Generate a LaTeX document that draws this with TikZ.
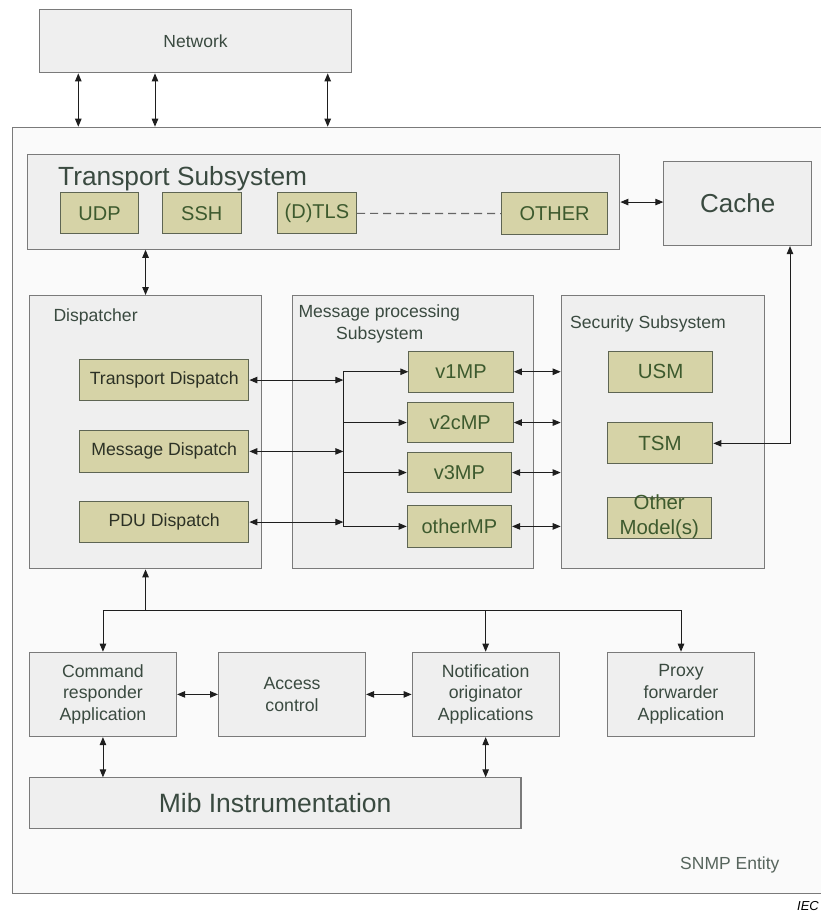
\documentclass[tikz,border=0pt]{standalone}
\usepackage{fontspec}
\setmainfont{Liberation Sans}
\usetikzlibrary{arrows.meta}

\definecolor{boxfill}{HTML}{EFEFEF}
\definecolor{boxline}{HTML}{7A7A7A}
\definecolor{entfill}{HTML}{FAFAFA}
\definecolor{modfill}{HTML}{D6D3A7}
\definecolor{modline}{HTML}{5E6553}
\definecolor{modtext}{HTML}{3D5A2E}
\definecolor{darktext}{HTML}{2C3125}
\definecolor{labtext}{HTML}{3A4A40}
\definecolor{wire}{HTML}{1E1E1E}

\newcommand{\fs}[2]{\fontsize{#1}{#2}\selectfont}

\tikzset{
  panel/.style={draw=boxline, fill=boxfill, line width=1.1pt, inner sep=0pt,
    anchor=north west, text=labtext},
  module/.style={draw=modline, fill=modfill, line width=1.1pt, inner sep=0pt,
    anchor=north west, text=modtext},
  appbox/.style={panel, minimum height=84.3, align=center, font={\fs{17.7}{21.7}}},
  caption/.style={inner sep=0pt, anchor=base west, text=labtext},
  link/.style={draw=wire, line width=0.9pt},
  tipped/.style={link, -{Triangle[length=8pt,width=6.5pt]}},
  both/.style={link, {Triangle[length=8pt,width=6.5pt]}-{Triangle[length=8pt,width=6.5pt]}},
  dotlink/.style={draw=black!60, line width=1.2pt, dash pattern=on 8pt off 5pt},
}

\begin{document}
\begin{tikzpicture}[x=1pt,y=-1pt]
\useasboundingbox[fill=white] (0,0) rectangle (820,911);

% network and SNMP entity frame
\node[panel, minimum width=311.4, minimum height=63] (net) at (39.3,9.3) {\fs{17.5}{21}Network};
\node[draw=boxline, fill=entfill, line width=1.1pt, inner sep=0pt, anchor=north west,
  minimum width=818, minimum height=765.8] (ent) at (12,126.7) {};

% transport subsystem
\node[panel, minimum width=592, minimum height=94.4] (tr) at (27.3,154.3) {};
\node[caption] (trlab) at (58,185) {\fs{26.3}{30}Transport Subsystem};
\node[module, minimum width=78, minimum height=41] (udp) at (60,192.3) {\fs{20}{24}UDP};
\node[module, minimum width=79, minimum height=41] (ssh) at (161.7,192.3) {\fs{20}{24}SSH};
\node[module, minimum width=79.3, minimum height=41] (dtls) at (276.7,192.3) {\fs{20}{24}(D)TLS};
\node[module, minimum width=106, minimum height=41.5] (oth) at (501,192.3) {\fs{20}{24}OTHER};
\node[panel, minimum width=147.7, minimum height=84] (cache) at (663.3,161) {\fs{26}{30}Cache};

% dispatcher
\node[panel, minimum width=231.4, minimum height=273.3] (disp) at (29.3,295) {};
\node[caption] (displab) at (53.3,321.7) {\fs{17.6}{21}Dispatcher};
\node[module, text=darktext, minimum width=169.3, minimum height=41] (td) at (79,359) {\fs{17.7}{21}Transport Dispatch};
\node[module, text=darktext, minimum width=169.3, minimum height=41.7] (md) at (79,430) {\fs{17.7}{21}Message Dispatch};
\node[module, text=darktext, minimum width=169.3, minimum height=41.6] (pdu) at (79,500.7) {\fs{17.7}{21}PDU Dispatch};

% message processing subsystem
\node[panel, minimum width=241.6, minimum height=273.3] (mp) at (291.7,295) {};
\node[caption] (mplab1) at (298.3,317.3) {\fs{17.6}{21}Message processing};
\node[caption] (mplab2) at (336,339) {\fs{17.6}{21}Subsystem};
\node[module, minimum width=104.4, minimum height=41] (v1) at (408.3,350.7) {\fs{20}{24}v1MP};
\node[module, minimum width=106, minimum height=40.6] (v2) at (406.7,401.7) {\fs{20}{24}v2cMP};
\node[module, minimum width=104.3, minimum height=40.6] (v3) at (406.7,451.7) {\fs{20}{24}v3MP};
\node[module, minimum width=104.3, minimum height=41.7] (omp) at (406.7,505) {\fs{20}{24}otherMP};

% security subsystem
\node[panel, minimum width=203.6, minimum height=272.7] (sec) at (560.7,295) {};
\node[caption] (seclab) at (570,328.3) {\fs{17.6}{21}Security Subsystem};
\node[module, minimum width=104.6, minimum height=41] (usm) at (607.7,350.7) {\fs{20.5}{24}USM};
\node[module, minimum width=105.6, minimum height=41] (tsm) at (606.7,422.3) {\fs{20.5}{24}TSM};
\node[module, minimum width=104, minimum height=41] (om) at (606.7,497.3) {};
\node[inner sep=0pt, align=center, text=modtext, font={\fs{20.4}{25}}] (omlab)
  at ([yshift=1.5]om.center) {Other\\Model(s)};

% applications
\node[appbox, minimum width=147.2] (cr) at (28.8,651.7) {Command\\responder\\Application};
\node[appbox, minimum width=147] (ac) at (218,651.7) {Access\\control};
\node[appbox, minimum width=147] (no) at (411.6,651.7) {Notification\\originator\\Applications};
\node[appbox, minimum width=147.5] (px) at (606.7,651.7) {Proxy\\forwarder\\Application};
\node[panel, minimum width=491.6, minimum height=51] (mib) at (28.8,777.3)
  {\fs{26.5}{30}Mib Instrumentation};

\node[caption, text=labtext!85] (entlab) at (680,869) {\fs{17.5}{21}SNMP Entity};
\node[caption, text=black] (ieclab) at (797,910) {\fs{13}{15}\itshape IEC};

% helper coordinates for connector columns and rows
\coordinate (n1) at (78.3,0);
\coordinate (n2) at (155,0);
\coordinate (n3) at (327.7,0);
\coordinate (bus) at (343.3,0);
\coordinate (cx) at (790,0);
\coordinate (hb) at (0,610);

% network links
\draw[both] (net.south -| n1) -- (ent.north -| n1);
\draw[both] (net.south -| n2) -- (ent.north -| n2);
\draw[both] (net.south -| n3) -- (ent.north -| n3);

% transport links
\draw[dotlink] (dtls.east) -- (oth.west);
\draw[both] (tr.east) -- (tr.east -| cache.west);
\draw[both] (tr.south -| disp.north) -- (disp.north);
\draw[both] (cache.south -| cx) |- (tsm.east);

% dispatcher to message processing
\draw[both] (td.east) -- (td.east -| bus);
\draw[both] (md.east) -- (md.east -| bus);
\draw[both] (pdu.east) -- (pdu.east -| bus);
\draw[link] (v1.west -| bus) -- (omp.west -| bus);
\draw[tipped] (v1.west -| bus) -- (v1.west);
\draw[tipped] (v2.west -| bus) -- (v2.west);
\draw[tipped] (v3.west -| bus) -- (v3.west);
\draw[tipped] (omp.west -| bus) -- (omp.west);

% message processing to security
\draw[both] (v1.east) -- (v1.east -| sec.west);
\draw[both] (v2.east) -- (v2.east -| sec.west);
\draw[both] (v3.east) -- (v3.east -| sec.west);
\draw[both] (omp.east) -- (omp.east -| sec.west);

% dispatcher to applications
\draw[tipped] (disp.south |- hb) -- (disp.south);
\draw[link] (cr.north |- hb) -- (px.north |- hb);
\draw[tipped] (cr.north |- hb) -- (cr.north);
\draw[tipped] (no.north |- hb) -- (no.north);
\draw[tipped] (px.north |- hb) -- (px.north);

% application links
\draw[both] (cr.east) -- (ac.west);
\draw[both] (ac.east) -- (no.west);
\draw[both] (cr.south) -- (cr.south |- mib.north);
\draw[both] (no.south) -- (no.south |- mib.north);
\end{tikzpicture}
\end{document}
